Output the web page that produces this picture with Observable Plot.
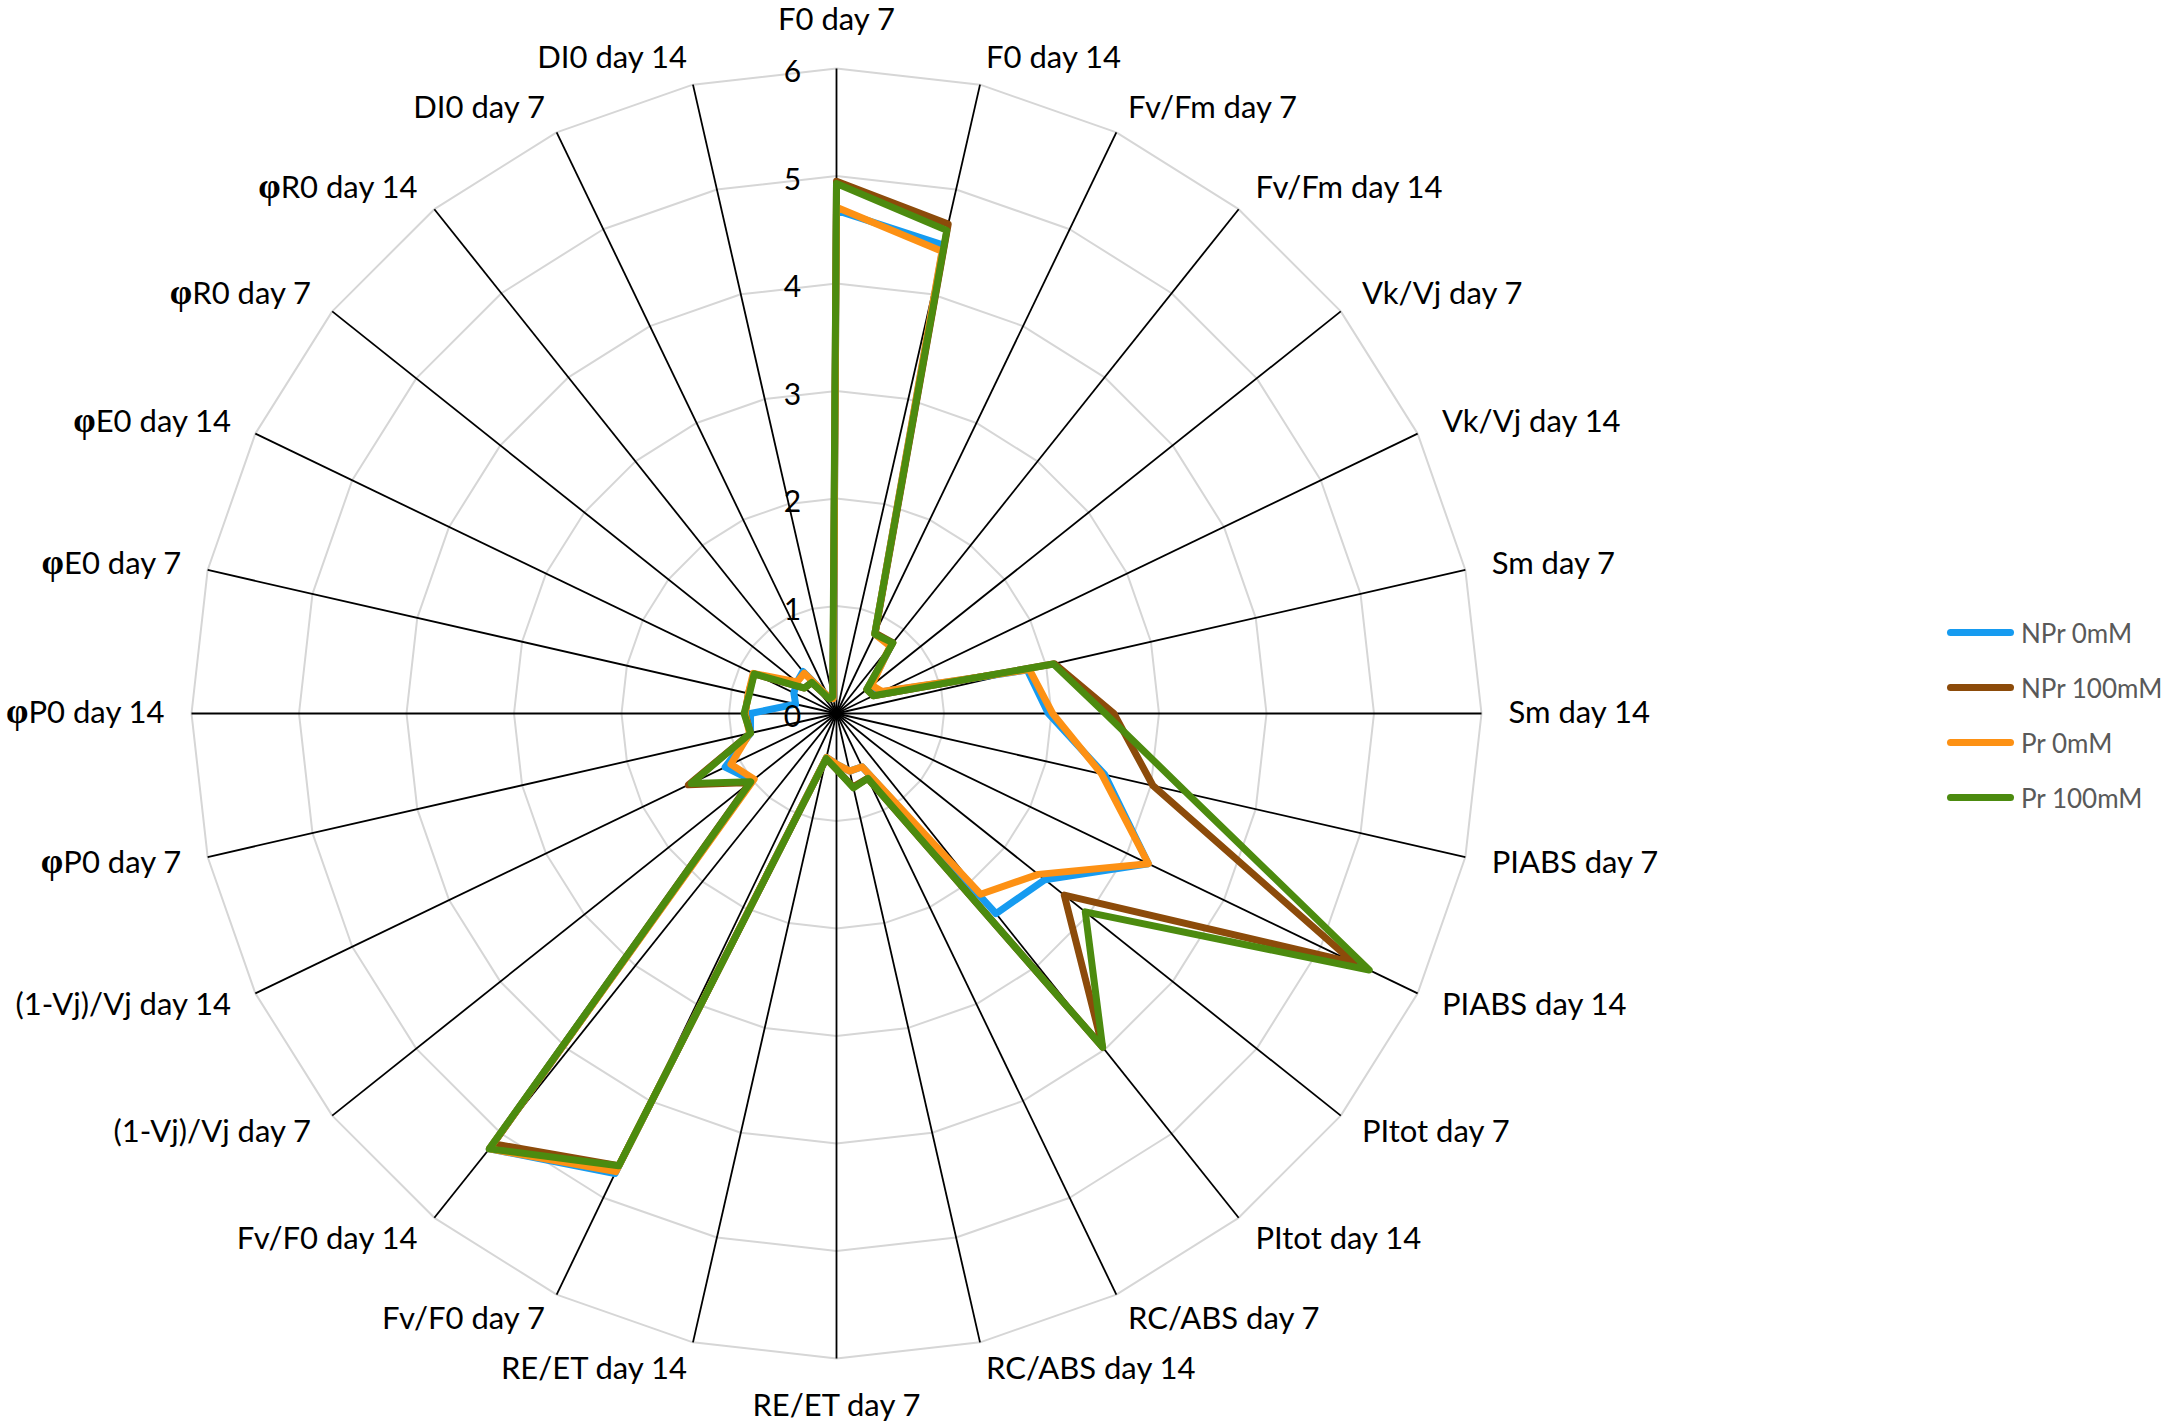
<!DOCTYPE html>
<html>
<head>
<meta charset="utf-8">
<script src="https://cdn.jsdelivr.net/npm/d3@7"></script>
<script src="https://cdn.jsdelivr.net/npm/@observablehq/plot@0.6"></script>
<style>
html, body { margin: 0; padding: 0; background: #fff; overflow: hidden; }
#wrap { position: relative; width: 2165px; height: 1427px; }
#legend { position: absolute; left: 1947px; top: 605px; font-family: Lato, "Open Sans", sans-serif; font-size: 26px; color: #595959; }
.item { display: flex; align-items: center; height: 55px; }
.sw { width: 67px; height: 7px; border-radius: 4px; margin-right: 7px; }
</style>
</head>
<body>
<div id="wrap"><div id="chart"></div><div id="legend"></div></div>
<script>
// ---- data ----
const categories = [
  "F0 day 7", "F0 day 14", "Fv/Fm day 7", "Fv/Fm day 14", "Vk/Vj day 7", "Vk/Vj day 14",
  "Sm day 7", "Sm day 14", "PIABS day 7", "PIABS day 14", "PItot day 7", "PItot day 14",
  "RC/ABS day 7", "RC/ABS day 14", "RE/ET day 7", "RE/ET day 14", "Fv/F0 day 7", "Fv/F0 day 14",
  "(1-Vj)/Vj day 7", "(1-Vj)/Vj day 14", "φP0 day 7", "φP0 day 14", "φE0 day 7", "φE0 day 14",
  "φR0 day 7", "φR0 day 14", "DI0 day 7", "DI0 day 14"
];
const seriesNames = ["NPr 0mM", "NPr 100mM", "Pr 0mM", "Pr 100mM"];
const seriesColors = ["#169bf0", "#8c4b0a", "#fd9114", "#4c8b0f"];
const npr0 = [4.68, 4.47, 0.82, 0.82, 0.40, 0.46, 1.82, 1.97, 2.56, 3.22, 2.48, 2.38,
  0.55, 0.55, 0.47, 0.42, 4.75, 5.18, 1.00, 1.15, 0.82, 0.80, 0.39, 0.44, 0.47, 0.50, 0.17, 0.14];
const npr100 = [4.95, 4.67, 0.83, 0.84, 0.36, 0.38, 2.08, 2.58, 3.02, 5.34, 2.71, 3.97,
  0.67, 0.70, 0.52, 0.43, 4.67, 5.12, 1.03, 1.53, 0.82, 0.85, 0.84, 0.85, 0.38, 0.37, 0.15, 0.15];
const pr0 = [4.71, 4.41, 0.82, 0.80, 0.42, 0.47, 1.84, 2.01, 2.53, 3.22, 2.40, 2.15,
  0.55, 0.55, 0.47, 0.42, 4.73, 5.18, 0.98, 1.09, 0.83, 0.85, 0.84, 0.86, 0.47, 0.48, 0.17, 0.14];
const pr100 = [4.93, 4.61, 0.82, 0.84, 0.36, 0.38, 2.07, 2.50, 3.35, 5.50, 2.96, 3.97,
  0.67, 0.71, 0.52, 0.43, 4.67, 5.18, 1.02, 1.50, 0.82, 0.86, 0.83, 0.85, 0.38, 0.37, 0.15, 0.16];
const ticks = [0, 1, 2, 3, 4, 5, 6];

// ---- layout ----
const W = 2165, H = 1427, CX = 836, CY = 713, UNIT = 107.5;
const RMAX = ticks[ticks.length - 1];
const n = categories.length;
const ang = i => 2 * Math.PI * i / n;
const px = (r, i) => r * Math.sin(ang(i));
const py = (r, i) => r * Math.cos(ang(i));

const seriesValues = [npr0, npr100, pr0, pr100];
const points = seriesNames.flatMap((s, k) => categories.map((c, i) => ({series: s, i, value: seriesValues[k][i]})));
const rings = ticks.filter(t => t > 0).flatMap(r => categories.map((c, i) => ({r, i})));
const spokes = categories.map((c, i) => ({c, i}));
const labOff = 27 / UNIT;
const labOffV = 48 / UNIT;
const isMid = d => Math.abs(Math.sin(ang(d.i))) < 0.01;
const rightLabs = spokes.filter(d => !isMid(d) && Math.sin(ang(d.i)) > 0);
const leftLabs = spokes.filter(d => !isMid(d) && Math.sin(ang(d.i)) < 0);
const midLabs = spokes.filter(isMid);

const labelStyle = {fontSize: 31, fill: "black", fontFamily: "Lato"};

const chart = Plot.plot({
  width: W,
  height: H,
  margin: 0,
  x: {domain: [-CX / UNIT, (W - CX) / UNIT], axis: null},
  y: {domain: [-(H - CY) / UNIT, CY / UNIT], axis: null},
  color: {domain: seriesNames, range: seriesColors},
  style: {fontFamily: "Lato", background: "white", overflow: "visible"},
  marks: [
    Plot.line(rings, {x: d => px(d.r, d.i), y: d => py(d.r, d.i), z: "r", stroke: "#d6d6d6", strokeWidth: 2, curve: "linear-closed"}),
    Plot.link(spokes, {x1: () => 0, y1: () => 0, x2: d => px(RMAX, d.i), y2: d => py(RMAX, d.i), stroke: "black", strokeWidth: 1.8}),
    Plot.line(points, {x: d => px(d.value, d.i), y: d => py(d.value, d.i), z: "series", stroke: "series",
      strokeWidth: 7, curve: "linear-closed", strokeLinejoin: "round"}),
    Plot.text(ticks, {x: () => 0, y: d => d, text: d => String(d), dx: -44, dy: 4, textAnchor: "middle", fontSize: 30, fill: "black"}),
    Plot.text(rightLabs, {x: d => px(RMAX + labOff, d.i), y: d => py(RMAX + labOff, d.i), text: "c", textAnchor: "start", ...labelStyle}),
    Plot.text(leftLabs, {x: d => px(RMAX + labOff, d.i), y: d => py(RMAX + labOff, d.i), text: "c", textAnchor: "end", ...labelStyle}),
    Plot.text(midLabs, {x: d => px(RMAX + labOffV, d.i), y: d => py(RMAX + labOffV, d.i), text: "c", textAnchor: "middle", ...labelStyle})
  ]
});
document.getElementById("chart").appendChild(chart);

// bold phi prefix as in the original
const NS = "http://www.w3.org/2000/svg";
chart.querySelectorAll("text").forEach(t => {
  if (t.children.length === 0 && t.textContent.startsWith("φ")) {
    const rest = t.textContent.slice(1);
    t.textContent = "";
    const a = document.createElementNS(NS, "tspan");
    a.setAttribute("font-weight", "bold");
    a.setAttribute("font-family", "Liberation Serif");
    a.setAttribute("font-size", "36");
    a.textContent = "φ";
    t.appendChild(a);
    const b = document.createElementNS(NS, "tspan");
    b.textContent = rest;
    t.appendChild(b);
  }
});

// legend
const leg = document.getElementById("legend");
seriesNames.forEach((s, k) => {
  const item = document.createElement("div");
  item.className = "item";
  const sw = document.createElement("div");
  sw.className = "sw";
  sw.style.background = seriesColors[k];
  const tx = document.createElement("span");
  tx.textContent = s;
  item.appendChild(sw);
  item.appendChild(tx);
  leg.appendChild(item);
});
</script>
</body>
</html>
